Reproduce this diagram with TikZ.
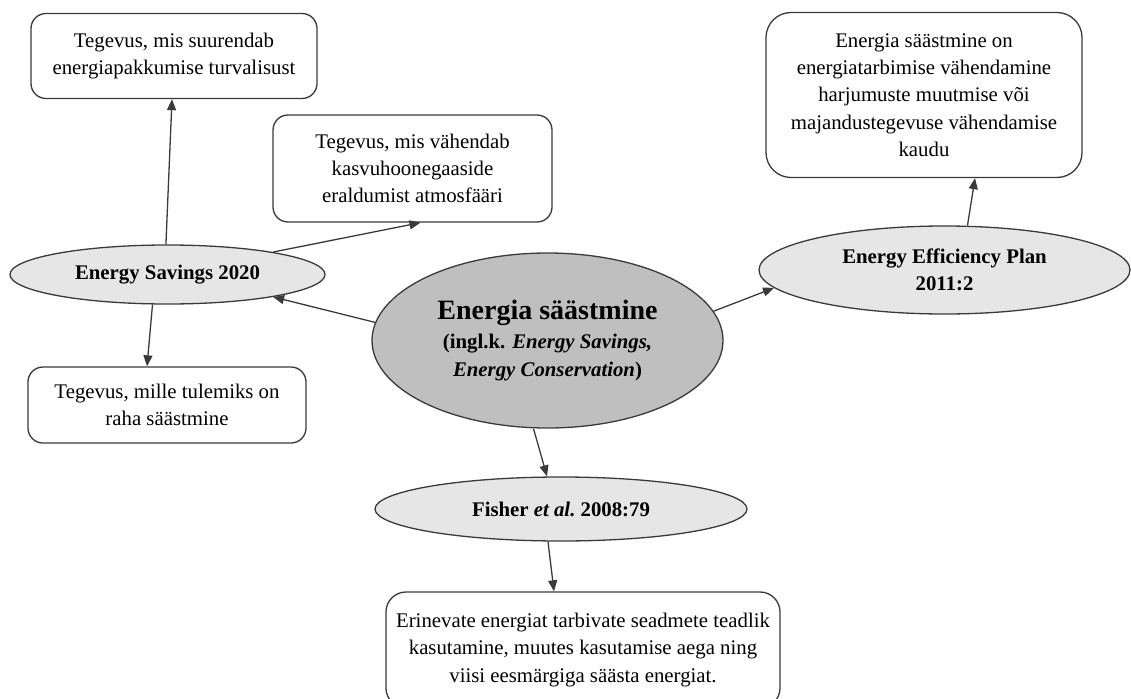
\documentclass[tikz,border=0pt]{standalone}
\usepackage{fontspec}
\setmainfont{Liberation Serif}
\usetikzlibrary{arrows.meta,shapes.geometric}
\definecolor{linec}{HTML}{3A3A3A}
\definecolor{lightfill}{HTML}{E6E6E6}
\definecolor{midfill}{HTML}{BFBFBF}
\tikzset{
  txt/.style={font=\fontsize{20.8}{27.3}\selectfont, align=center, text=black},
  rbox/.style={txt, draw=linec, line width=1.3pt, rounded corners=15pt, fill=white, inner sep=0pt},
  oval/.style={ellipse, draw=linec, line width=1.3pt, inner sep=0pt, fill=lightfill,
     font=\fontsize{20.8}{27.3}\selectfont\bfseries, align=center},
  arr/.style={draw=linec, line width=1.3pt, -{Triangle[length=11pt,width=9pt]}},
}
\begin{document}
\begin{tikzpicture}[x=1pt,y=-1pt]
\useasboundingbox (0,0) rectangle (1131,698);

% rectangles
\node[rbox, minimum width=286pt, minimum height=85pt] (b1) at (174,56)
  {Tegevus, mis suurendab\\energiapakkumise turvalisust};
\node[rbox, minimum width=279pt, minimum height=107pt] (b2) at (412.5,168.5)
  {Tegevus, mis vähendab\\kasvuhoonegaaside\\eraldumist atmosfääri};
\node[rbox, rounded corners=25pt, minimum width=316pt, minimum height=165pt] (b3) at (924,95)
  {Energia säästmine on\\energiatarbimise vähendamine\\harjumuste muutmise või\\majandustegevuse vähendamise\\kaudu};
\node[rbox, minimum width=278pt, minimum height=76pt] (b4) at (167,405)
  {Tegevus, mille tulemiks on\\raha säästmine};
\node[rbox, rounded corners=20pt, minimum width=394pt, minimum height=116pt] (b5) at (583,650)
  {Erinevate energiat tarbivate seadmete teadlik\\kasutamine, muutes kasutamise aega ning\\viisi eesmärgiga säästa energiat.};

% ellipses
\node[oval, minimum width=315pt, minimum height=59pt] (es) at (167.5,274.5)
  {Energy Savings 2020};
\node[oval, minimum width=371pt, minimum height=88pt] (eep) at (944.5,270)
  {Energy Efficiency Plan\\2011:2};
\node[oval, minimum width=372pt, minimum height=64pt] (fi) at (561,509)
  {Fisher \textit{et al.}\ 2008:79};
\node[oval, fill=midfill, minimum width=351pt, minimum height=175pt] (c) at (547.5,340.5)
  {{\fontsize{28}{32}\selectfont Energia säästmine}\\[2pt]
   {\fontsize{20.8}{23.5}\selectfont (ingl.k. \textit{Energy Savings,}}\\
   {\fontsize{20.8}{23.5}\selectfont \textit{Energy Conservation})}};

% connectors
\draw[arr] (es.93) -- ([xshift=-2pt]b1.south);
\draw[arr] (es.12) -- ([xshift=8pt]b2.south);
\draw[arr] (c.174) -- (es.-12);
\draw[arr] ([xshift=-15pt]es.south) -- ([xshift=-20pt]b4.north);
\draw[arr] (c.10) -- (eep.186);
\draw[arr] ([xshift=23pt]eep.north) -- ([xshift=51pt]b3.south);
\draw[arr] ([xshift=-14pt]c.south) -- ([xshift=-14pt]fi.north);
\draw[arr] ([xshift=-13pt]fi.south) -- ([xshift=-29pt]b5.north);
\end{tikzpicture}
\end{document}
